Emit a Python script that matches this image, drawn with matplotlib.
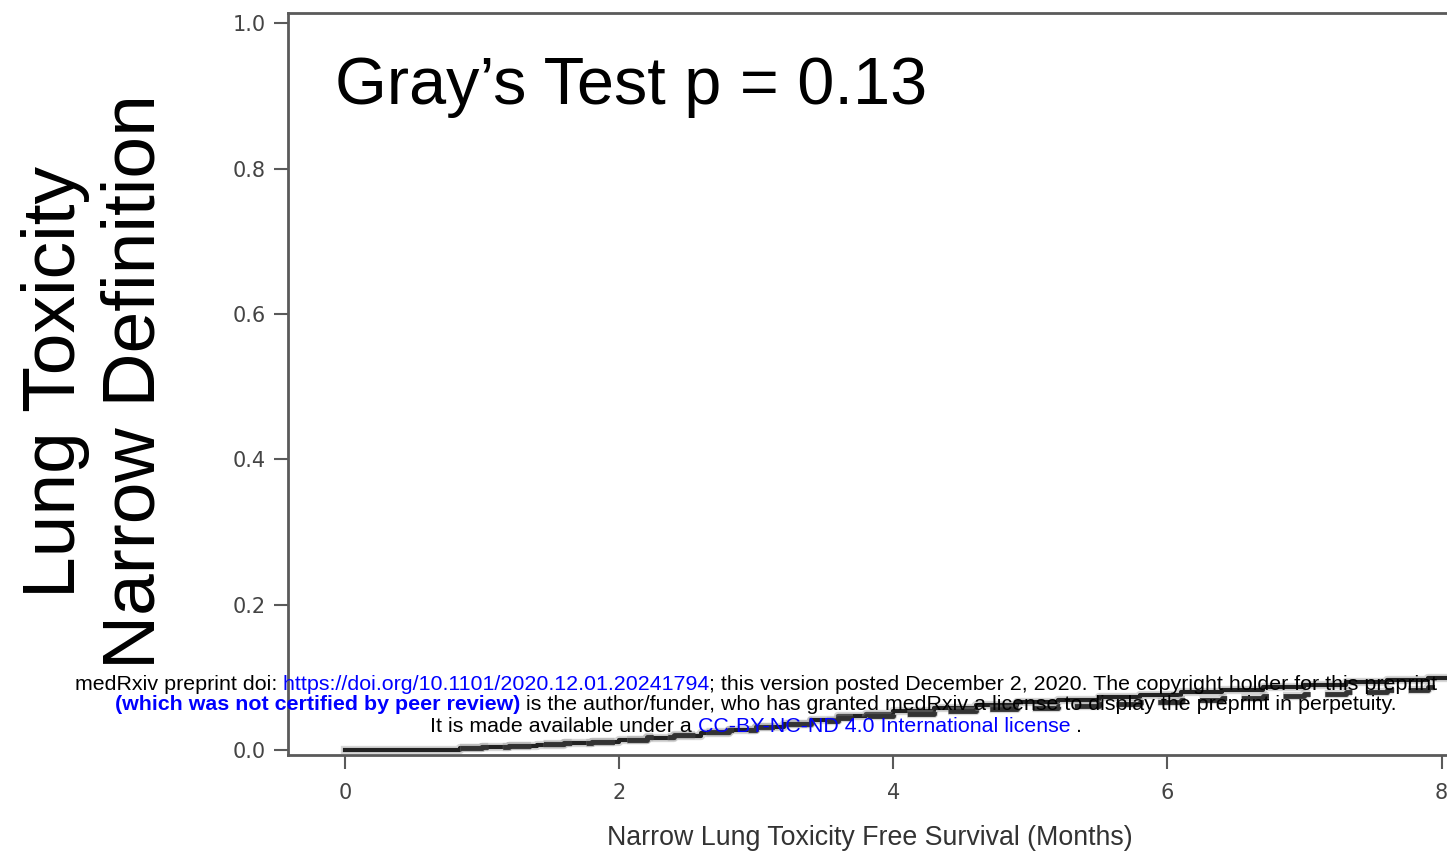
import matplotlib
matplotlib.use("Agg")
import matplotlib.pyplot as plt
import matplotlib.patheffects as pe
from matplotlib.text import Annotation

# cumulative incidence
time_solid = [0, 0.84, 1.0, 1.2, 1.4, 1.6, 1.8, 2.0, 2.2, 2.4, 2.6, 2.8, 3.0, 3.2, 3.4, 3.6,
              3.8, 4.0, 4.3, 4.6, 4.9, 5.2, 5.5, 5.8, 6.1, 6.4, 6.7, 7.0, 7.3, 7.6, 7.9, 8.1]
cif_solid = [0, 0.003, 0.004, 0.006, 0.007, 0.009, 0.011, 0.013, 0.016, 0.019, 0.023, 0.027,
             0.031, 0.036, 0.041, 0.046, 0.050, 0.054, 0.058, 0.062, 0.066, 0.069, 0.073,
             0.076, 0.080, 0.083, 0.087, 0.090, 0.093, 0.096, 0.099, 0.100]

time_dash = time_solid[1:]
cif_dash = [0.003, 0.004, 0.005, 0.008, 0.009, 0.011, 0.014, 0.018, 0.021, 0.025, 0.028,
            0.032, 0.036, 0.040, 0.044, 0.047, 0.050, 0.053, 0.056, 0.058, 0.061, 0.063,
            0.066, 0.069, 0.071, 0.074, 0.077, 0.080, 0.083, 0.086, 0.088]

x_ticks = [0, 2, 4, 6, 8]
y_ticks = [0.0, 0.2, 0.4, 0.6, 0.8, 1.0]

test_label = "Gray\u2019s Test p = 0.13"
x_title = "Narrow Lung Toxicity Free Survival (Months)"
y_title = "Lung Toxicity\nNarrow Definition"

W, H = 1447, 864
fig = plt.figure(figsize=(W / 100, H / 100), dpi=100)
ax = fig.add_axes([288 / W, 1 - 755 / H, 1 - 288 / W, (755 - 13) / H])

soft = [pe.Stroke(linewidth=6, foreground="#999999", alpha=0.4), pe.Normal()]
ax.plot(time_solid, cif_solid, drawstyle="steps-post", color="#222222", lw=3, zorder=3,
        path_effects=soft)
ax.plot(time_dash, cif_dash, drawstyle="steps-post", color="#333333", lw=3.5,
        dashes=(6, 3), zorder=3, path_effects=soft)

ax.set_xlim(-0.416, 8.04)
ax.set_ylim(-0.007, 1.014)
ax.set_xticks(x_ticks)
ax.set_yticks(y_ticks)
ax.set_yticklabels([f"{v:.1f}" for v in y_ticks])

ax.spines["right"].set_visible(False)
for side in ["left", "bottom", "top"]:
    ax.spines[side].set_color("#5a5a5a")
    ax.spines[side].set_linewidth(2)

ax.tick_params(axis="both", colors="#5a5a5a", width=1.5, length=10,
               labelsize=15, labelcolor="#444444")
ax.tick_params(axis="x", pad=10)
ax.tick_params(axis="y", pad=6)

fig.text(335 / W, 1 - 104 / H, test_label, fontsize=48, family="Liberation Sans",
         va="baseline", ha="left")
fig.text(870 / W, 1 - 838 / H, x_title, fontsize=19.3, family="Liberation Sans",
         color="#333333", ha="center", va="center")
fig.text(95 / W, 1 - 382 / H, y_title, fontsize=54, family="Liberation Sans",
         rotation=90, ha="center", va="center", multialignment="center",
         linespacing=1.2)

# medRxiv watermark, drawn in coloured pieces
blue = "#0000ff"
wm_size = 15.4
lines = [
    (684, [("medRxiv preprint doi:", "black", "normal"),
           (" https://doi.org/10.1101/2020.12.01.20241794", blue, "normal"),
           ("; this version posted December 2, 2020. The copyright holder for this preprint", "black", "normal")]),
    (705, [("(which was not certified by peer review)", blue, "bold"),
           (" is the author/funder, who has granted medRxiv a license to display the preprint in perpetuity.", "black", "normal")]),
    (726, [("It is made available under a", "black", "normal"),
           (" CC-BY-NC-ND 4.0 International license", blue, "normal"),
           (" .", "black", "normal")]),
]

renderer = fig.canvas.get_renderer()
for ypx, segs in lines:
    pieces = []
    prev = None
    for s, c, w in segs:
        if prev is None:
            t = fig.text(0.5, 1 - ypx / H, s, color=c, fontweight=w, fontsize=wm_size,
                         family="Liberation Sans", ha="left", va="center", zorder=10)
        else:
            t = fig.add_artist(Annotation(
                s, xy=(1, 0), xycoords=prev, va="bottom", color=c, fontweight=w,
                fontsize=wm_size, family="Liberation Sans", zorder=10))
        pieces.append(t)
        prev = t
    fig.canvas.draw()
    x0 = pieces[0].get_window_extent(renderer).x0
    x1 = pieces[-1].get_window_extent(renderer).x1
    pieces[0].set_x((756 - (x1 - x0) / 2) / W)

fig.savefig("out.png", dpi=100)
